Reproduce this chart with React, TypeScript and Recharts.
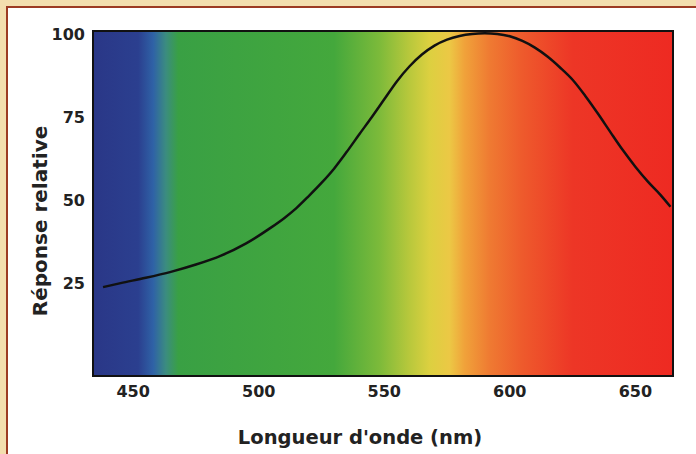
import { ComposedChart, Line, XAxis, YAxis, ReferenceArea } from 'recharts';

// wavelength (nm) and relative response
const wavelengths = [438, 445, 455, 465, 475, 485, 495, 505, 510, 515, 520, 525, 530, 535, 540, 545, 550, 555, 560, 565, 570, 575, 580, 585, 590, 595, 600, 605, 610, 615, 620, 625, 630, 635, 640, 645, 650, 655, 660, 664];
const response = [23.8, 25, 26.6, 28.4, 30.6, 33.3, 37, 41.8, 44.5, 47.6, 51.3, 55.2, 59.5, 64.5, 69.8, 75, 80.4, 85.8, 90.3, 93.9, 96.6, 98.4, 99.5, 100.1, 100.3, 100.1, 99.4, 98, 96, 93.3, 90, 86.3, 81.5, 76.2, 70.6, 65.1, 60.1, 55.6, 51.6, 48];

const xTicks = [450, 500, 550, 600, 650];
const yTicks = [25, 50, 75, 100];

// spectrum stops: wavelength -> colour
const spectrumNm = [434, 452, 458, 463, 468, 530, 548, 560, 568, 576, 582, 592, 605, 625, 665];
const spectrumColors = ['#2a3787', '#2b3f8f', '#2f62a6', '#3b8c80', '#39a044', '#44a83c', '#7cba3a', '#b8c83c', '#dcd040', '#ecc845', '#f0a23a', '#ef7a32', '#ee5a2c', '#ed3626', '#ee2a22'];

const X_MIN = 434;
const X_MAX = 665;
const Y_MIN = -3;
const Y_MAX = 101;

const data = wavelengths.map((nm, i) => ({ nm, value: response[i] }));

const FONT = '"DejaVu Sans", sans-serif';

const App = () => {
  return (
    <div
      style={{
        position: 'fixed',
        left: 0,
        top: 0,
        width: 696,
        height: 454,
        background: '#f3deae',
        overflow: 'hidden',
      }}
    >
      <div
        style={{
          position: 'absolute',
          left: 6,
          top: 6,
          width: 720,
          height: 480,
          background: '#ffffff',
          borderLeft: '2px solid #9c3a22',
          borderTop: '2px solid #9c3a22',
        }}
      />
      <div style={{ position: 'absolute', left: 0, top: 0 }}>
        <ComposedChart
          width={696}
          height={454}
          data={data}
          margin={{ top: 31, right: 23, bottom: 0, left: 0 }}
        >
          <defs>
            <linearGradient id="spectrum" x1="0" y1="0" x2="1" y2="0">
              {spectrumNm.map((nm, i) => (
                <stop
                  key={nm}
                  offset={(nm - X_MIN) / (X_MAX - X_MIN)}
                  stopColor={spectrumColors[i]}
                />
              ))}
            </linearGradient>
          </defs>
          <XAxis
            dataKey="nm"
            type="number"
            domain={[X_MIN, X_MAX]}
            ticks={xTicks}
            allowDataOverflow
            tickLine={false}
            axisLine={false}
            height={78}
            tick={{ fill: '#222', fontSize: 16, fontWeight: 700, fontFamily: FONT }}
            tickMargin={4}
            label={{
              content: () => (
                <text
                  x={360}
                  y={437}
                  textAnchor="middle"
                  dominantBaseline="central"
                  fill="#222"
                  fontSize={19.5}
                  fontWeight={700}
                  fontFamily={FONT}
                >
                  Longueur d'onde (nm)
                </text>
              ),
            }}
          />
          <YAxis
            type="number"
            domain={[Y_MIN, Y_MAX]}
            ticks={yTicks}
            allowDataOverflow
            tickLine={false}
            axisLine={false}
            width={93}
            tick={{ fill: '#222', fontSize: 16, fontWeight: 700, fontFamily: FONT }}
            tickMargin={2}
            label={{
              content: () => (
                <text
                  x={40}
                  y={221}
                  transform="rotate(-90 40 221)"
                  textAnchor="middle"
                  dominantBaseline="central"
                  fill="#222"
                  fontSize={20}
                  fontWeight={700}
                  fontFamily={FONT}
                >
                  Réponse relative
                </text>
              ),
            }}
          />
          <ReferenceArea
            x1={X_MIN}
            x2={X_MAX}
            y1={Y_MIN}
            y2={Y_MAX}
            fill="url(#spectrum)"
            fillOpacity={1}
            stroke="#111"
            strokeWidth={2}
          />
          <Line
            type="monotone"
            dataKey="value"
            stroke="#111"
            strokeWidth={2.5}
            dot={false}
            isAnimationActive={false}
          />
        </ComposedChart>
      </div>
    </div>
  );
};

export default App;
